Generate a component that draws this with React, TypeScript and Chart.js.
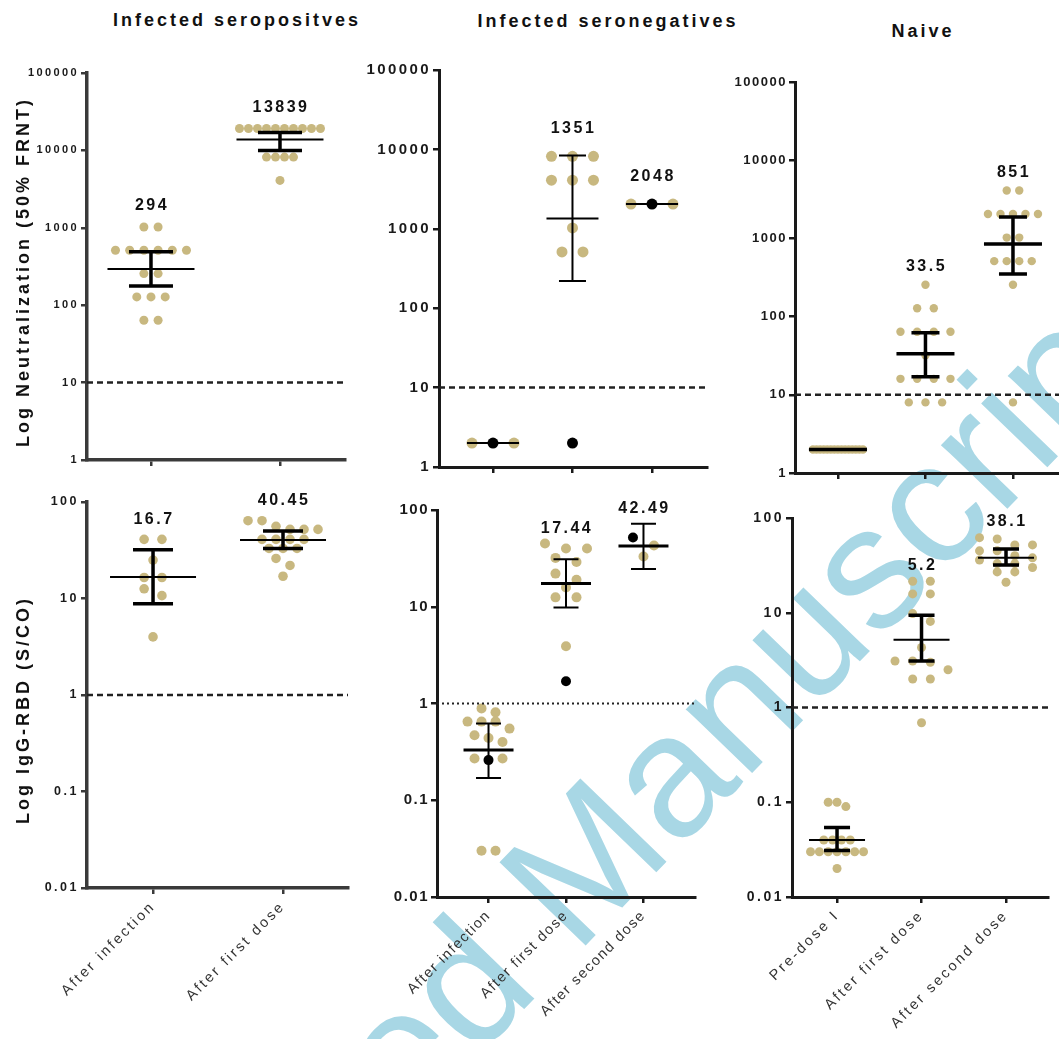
import React, { useEffect, useRef } from "react";
import { Chart, registerables } from "chart.js";
Chart.register(...registerables);

const FONT = '"Liberation Sans", Arial, Helvetica, sans-serif';
const TAN = "#c8b880";
const WM_COLOR = "rgb(168, 215, 229)";

// ---------------- DATA ----------------
const columnTitles = ["Infected seropositves", "Infected seronegatives", "Naive"];
const yTitleTop = "Log Neutralization (50% FRNT)";
const yTitleBottom = "Log IgG-RBD (S/CO)";

const catsSeropos = ["After infection", "After first dose"];
const catsSeroneg = ["After infection", "After first dose", "After second dose"];
const catsNaive = ["Pre-dose I", "After first dose", "After second dose"];

const ticksNeut = [1, 10, 100, 1000, 10000, 100000];
const ticksIgG = [0.01, 0.1, 1, 10, 100];

// Neutralization – infected seropositives
const neutSeroposInfection = [1024, 1024, 512, 512, 512, 512, 512, 512, 256, 256, 128, 128, 128, 64, 64];
const neutSeroposDose1 = [19200, 19200, 19200, 19200, 19200, 19200, 19200, 19200, 19200, 19200, 8192, 8192, 8192, 8192, 4096];
const neutSeroposMean = [294, 13839];
const neutSeroposUpper = [490, 17000];
const neutSeroposLower = [177, 10000];
const neutSeroposLabels = ["294", "13839"];

// Neutralization – infected seronegatives (black = highlighted individual)
const neutSeronegInfection = [2, 2];
const neutSeronegInfectionBlack = [2];
const neutSeronegDose1 = [8192, 8192, 8192, 4096, 4096, 4096, 1024, 512, 512];
const neutSeronegDose1Black = [2];
const neutSeronegDose2 = [2048, 2048];
const neutSeronegDose2Black = [2048];
const neutSeronegMean = [2, 1351, 2048];
const neutSeronegUpper = [null, 8400, null];
const neutSeronegLower = [null, 220, null];
const neutSeronegLabels = ["", "1351", "2048"];

// Neutralization – naive
const neutNaivePre = [2, 2, 2, 2, 2, 2, 2, 2, 2, 2, 2, 2, 2, 2, 2];
const neutNaiveDose1 = [256, 128, 128, 64, 64, 64, 64, 32, 16, 16, 16, 16, 8, 8, 8];
const neutNaiveDose2 = [4096, 4096, 2048, 2048, 2048, 2048, 2048, 1024, 1024, 512, 512, 512, 512, 256, 8];
const neutNaiveMean = [2, 33.5, 851];
const neutNaiveUpper = [null, 62, 1880];
const neutNaiveLower = [null, 17, 350];
const neutNaiveLabels = ["", "33.5", "851"];

// IgG-RBD – infected seropositives
const iggSeroposInfection = [41, 41, 25, 16.5, 16.5, 12.6, 10.7, 4];
const iggSeroposDose1 = [64, 64, 56, 52, 52, 52, 41, 41, 41, 41, 33, 33, 33, 26, 22, 17];
const iggSeroposMean = [16.7, 40.45];
const iggSeroposUpper = [32, 50];
const iggSeroposLower = [8.8, 33];
const iggSeroposLabels = ["16.7", "40.45"];

// IgG-RBD – infected seronegatives
const iggSeronegInfection = [0.89, 0.81, 0.65, 0.65, 0.65, 0.55, 0.47, 0.44, 0.4, 0.27, 0.27, 0.03, 0.03];
const iggSeronegInfectionBlack = [0.26];
const iggSeronegDose1 = [45, 40, 40, 32, 29, 22, 19, 15.8, 12.5, 12.5, 3.9];
const iggSeronegDose1Black = [1.7];
const iggSeronegDose2 = [43, 33];
const iggSeronegDose2Black = [52];
const iggSeronegMean = [0.33, 17.44, 42.49];
const iggSeronegUpper = [0.62, 31, 72];
const iggSeronegLower = [0.17, 9.8, 24.5];
const iggSeronegLabels = ["", "17.44", "42.49"];

// IgG-RBD – naive
const iggNaivePre = [0.1, 0.1, 0.09, 0.04, 0.04, 0.04, 0.04, 0.03, 0.03, 0.03, 0.03, 0.03, 0.03, 0.03, 0.02];
const iggNaiveDose1 = [21.5, 21.5, 15.8, 15.8, 9.8, 8.1, 4.3, 3.1, 3.1, 3.0, 2.5, 2, 2, 0.69];
const iggNaiveDose2 = [62, 60, 52, 52, 45, 45, 40, 38, 36, 33, 33, 30, 27, 27, 21];
const iggNaiveMean = [0.04, 5.2, 38.1];
const iggNaiveUpper = [0.054, 9.4, 47];
const iggNaiveLower = [0.031, 3.1, 32];
const iggNaiveLabels = ["", "5.2", "38.1"];

const neutCutoff = 10;
const iggCutoff = 1;

// ---------------- LAYOUT / STYLE ----------------
type Geom = { l: number; r: number; t: number; b: number; xmin: number; xmax: number; ymin: number; ymax: number };
type Style = {
  dotR: number; sp: number; maxW: number; rowGap: number; meanW: number; errW: number;
  meanHalf: number; capHalf: number; tickFont: number; tickLS: number; axisColor: string; axisW: number;
  dash: number[]; dashW: number; labelOff: number; xFont: number;
};
type PanelDef = {
  id: string; bottom: boolean; cats: string[]; tan: number[][]; black: number[][];
  mean: number[]; upper: (number | null)[]; lower: (number | null)[]; labels: string[];
  threshold: number; yTicks: number[]; geom: Geom; style: Style;
};

const Y_W = 80;
const PAD_T = 20;
const PAD_R = 12;
const XH_TOP = 25;
const XH_BOTTOM = 150;

const baseStyle: Style = {
  dotR: 4.5, sp: 14, maxW: 60, rowGap: 9, meanW: 2, errW: 3.5, meanHalf: 40, capHalf: 20,
  tickFont: 13, tickLS: 2, axisColor: "#1a1a1a", axisW: 3, dash: [6, 4], dashW: 2.5, labelOff: 22, xFont: 14.5,
};

const PANELS: PanelDef[] = [
  {
    id: "A", bottom: false, cats: catsSeropos,
    tan: [neutSeroposInfection, neutSeroposDose1], black: [[], []],
    mean: neutSeroposMean, upper: neutSeroposUpper, lower: neutSeroposLower, labels: neutSeroposLabels,
    threshold: neutCutoff, yTicks: ticksNeut,
    geom: { l: 87, r: 345, t: 73, b: 460, xmin: -0.496, xmax: 1.504, ymin: 1, ymax: 100000 },
    style: { ...baseStyle, dotR: 4.5, sp: 14.2, maxW: 81, meanW: 2, errW: 3.5, meanHalf: 43.5, capHalf: 22, tickFont: 11, tickLS: 2.4, axisColor: "#3a3a3a", axisW: 3.5, labelOff: 21 },
  },
  {
    id: "B", bottom: false, cats: catsSeroneg,
    tan: [neutSeronegInfection, neutSeronegDose1, neutSeronegDose2],
    black: [neutSeronegInfectionBlack, neutSeronegDose1Black, neutSeronegDose2Black],
    mean: neutSeronegMean, upper: neutSeronegUpper, lower: neutSeronegLower, labels: neutSeronegLabels,
    threshold: neutCutoff, yTicks: ticksNeut,
    geom: { l: 439, r: 707, t: 70, b: 467, xmin: -0.679, xmax: 2.692, ymin: 1, ymax: 100000 },
    style: { ...baseStyle, dotR: 5.5, sp: 21, maxW: 60, meanW: 2, errW: 2, meanHalf: 26, capHalf: 13.5, tickFont: 15, tickLS: 2.4, labelOff: 27 },
  },
  {
    id: "C", bottom: false, cats: catsNaive,
    tan: [neutNaivePre, neutNaiveDose1, neutNaiveDose2], black: [[], [], []],
    mean: neutNaiveMean, upper: neutNaiveUpper, lower: neutNaiveLower, labels: neutNaiveLabels,
    threshold: neutCutoff, yTicks: ticksNeut,
    geom: { l: 795, r: 1059, t: 82, b: 473, xmin: -0.491, xmax: 2.526, ymin: 1, ymax: 100000 },
    style: { ...baseStyle, dotR: 4.2, sp: 17, maxW: 50, meanW: 3.5, errW: 3.5, meanHalf: 29, capHalf: 14, tickFont: 13, tickLS: 1.5, labelOff: 18 },
  },
  {
    id: "D", bottom: true, cats: catsSeropos,
    tan: [iggSeroposInfection, iggSeroposDose1], black: [[], []],
    mean: iggSeroposMean, upper: iggSeroposUpper, lower: iggSeroposLower, labels: iggSeroposLabels,
    threshold: iggCutoff, yTicks: ticksIgG,
    geom: { l: 87, r: 348, t: 502, b: 888, xmin: -0.508, xmax: 1.5, ymin: 0.01, ymax: 100 },
    style: { ...baseStyle, dotR: 4.8, sp: 17.8, maxW: 70, meanW: 2, errW: 3.5, meanHalf: 43, capHalf: 20, tickFont: 12.5, tickLS: 2.5, axisColor: "#3a3a3a", axisW: 3.5, labelOff: 20 },
  },
  {
    id: "E", bottom: true, cats: catsSeroneg,
    tan: [iggSeronegInfection, iggSeronegDose1, iggSeronegDose2],
    black: [iggSeronegInfectionBlack, iggSeronegDose1Black, iggSeronegDose2Black],
    mean: iggSeronegMean, upper: iggSeronegUpper, lower: iggSeronegLower, labels: iggSeronegLabels,
    threshold: iggCutoff, yTicks: ticksIgG,
    geom: { l: 437, r: 695, t: 510, b: 897, xmin: -0.665, xmax: 2.665, ymin: 0.01, ymax: 100 },
    style: { ...baseStyle, dotR: 5, sp: 21, maxW: 42, meanW: 3, errW: 2, meanHalf: 25, capHalf: 12.5, tickFont: 15, tickLS: 1.5, dash: [2, 3], dashW: 2, labelOff: 15 },
  },
  {
    id: "F", bottom: true, cats: catsNaive,
    tan: [iggNaivePre, iggNaiveDose1, iggNaiveDose2], black: [[], [], []],
    mean: iggNaiveMean, upper: iggNaiveUpper, lower: iggNaiveLower, labels: iggNaiveLabels,
    threshold: iggCutoff, yTicks: ticksIgG,
    geom: { l: 792, r: 1048, t: 518, b: 897, xmin: -0.533, xmax: 2.497, ymin: 0.01, ymax: 100 },
    style: { ...baseStyle, dotR: 4.5, sp: 18, maxW: 53, meanW: 2, errW: 3.5, meanHalf: 28, capHalf: 13, tickFont: 14, tickLS: 2.5, labelOff: 16 },
  },
];

// ---------------- HELPERS ----------------
type Pt = { x: number; y: number | null };

function swarm(tan: number[], black: number[], ci: number, g: Geom, s: Style) {
  const items = [
    ...tan.map((v) => ({ v, k: 0 })),
    ...black.map((v) => ({ v, k: 1 })),
  ].sort((a, b) => b.v - a.v);
  const lmax = Math.log10(g.ymax), lmin = Math.log10(g.ymin);
  const yPix = (v: number) => g.t + ((lmax - Math.log10(v)) / (lmax - lmin)) * (g.b - g.t);
  const rows: { v: number; k: number }[][] = [];
  let cur: { v: number; k: number }[] | null = null;
  let startY = 0;
  for (const it of items) {
    const y = yPix(it.v);
    if (!cur || y - startY >= s.rowGap) {
      cur = [];
      rows.push(cur);
      startY = y;
    }
    cur.push(it);
  }
  const maxLen = rows.reduce((m, r) => Math.max(m, r.length), 1);
  const spPx = maxLen > 1 ? Math.min(s.sp, s.maxW / (maxLen - 1)) : s.sp;
  const unit = (g.r - g.l) / (g.xmax - g.xmin);
  const outTan: Pt[] = [], outBlack: Pt[] = [];
  rows.forEach((row) => {
    const tans = row.filter((i) => i.k === 0);
    const blacks = row.filter((i) => i.k === 1);
    const mid = Math.floor(tans.length / 2);
    const ordered = [...tans.slice(0, mid), ...blacks, ...tans.slice(mid)];
    ordered.forEach((it, j) => {
      const x = ci + ((j - (ordered.length - 1) / 2) * spPx) / unit;
      (it.k ? outBlack : outTan).push({ x, y: it.v });
    });
  });
  return { tan: outTan, black: outBlack };
}

function buildConfig(p: PanelDef): any {
  const g = p.geom, s = p.style;
  const unit = (g.r - g.l) / (g.xmax - g.xmin);
  const tanPts: Pt[] = [], blackPts: Pt[] = [];
  p.cats.forEach((_, i) => {
    const sw = swarm(p.tan[i], p.black[i], i, g, s);
    tanPts.push(...sw.tan);
    blackPts.push(...sw.black);
  });
  const meanPts: Pt[] = [], errPts: Pt[] = [];
  p.mean.forEach((m, i) => {
    const mh = s.meanHalf / unit, ch = s.capHalf / unit;
    meanPts.push({ x: i - mh, y: m }, { x: i + mh, y: m }, { x: i, y: null });
    const u = p.upper[i], lo = p.lower[i];
    if (u != null && lo != null) {
      errPts.push(
        { x: i - ch, y: u }, { x: i + ch, y: u }, { x: i, y: null },
        { x: i, y: u }, { x: i, y: lo }, { x: i, y: null },
        { x: i - ch, y: lo }, { x: i + ch, y: lo }, { x: i, y: null }
      );
    }
  });
  const thrPts: Pt[] = [{ x: g.xmin, y: p.threshold }, { x: g.xmax, y: p.threshold }];

  const lineDs = (label: string, data: Pt[], w: number, order: number, extra: any = {}) => ({
    label, data, showLine: true, borderColor: "#000", backgroundColor: "#000", borderWidth: w,
    pointRadius: 0, pointHoverRadius: 0, spanGaps: false, order, borderCapStyle: "butt", ...extra,
  });

  const datasets = [
    lineDs("mean", meanPts, s.meanW, 0),
    lineDs("sd", errPts, s.errW, 0),
    lineDs("cutoff", thrPts, s.dashW, 1, { borderColor: "#222", borderDash: s.dash }),
    {
      label: "highlight", data: blackPts, showLine: false, pointRadius: s.dotR, pointHoverRadius: s.dotR,
      backgroundColor: "#000", pointBackgroundColor: "#000", borderWidth: 0, pointBorderWidth: 0, order: 2,
    },
    {
      label: "values", data: tanPts, showLine: false, pointRadius: s.dotR, pointHoverRadius: s.dotR,
      backgroundColor: TAN, pointBackgroundColor: TAN, borderWidth: 0, pointBorderWidth: 0, order: 3,
    },
  ];

  const spacingPlugin = {
    id: "spacing" + p.id,
    beforeDraw(chart: any) {
      chart.ctx.letterSpacing = s.tickLS + "px";
    },
  };

  const labelPlugin = {
    id: "meanLabels" + p.id,
    afterDatasetsDraw(chart: any) {
      const { ctx } = chart;
      const xs = chart.scales.x, ys = chart.scales.y;
      ctx.save();
      ctx.font = `bold 16px ${FONT}`;
      ctx.letterSpacing = "2.5px";
      ctx.fillStyle = "#111";
      ctx.textAlign = "center";
      ctx.textBaseline = "middle";
      p.labels.forEach((lab, i) => {
        if (!lab) return;
        const vals = [...p.tan[i], ...p.black[i]];
        if (p.upper[i] != null) vals.push(p.upper[i] as number);
        const top = Math.max(...vals);
        const py = ys.getPixelForValue(top) - s.labelOff;
        ctx.fillText(lab, xs.getPixelForValue(i) + 1, py);
      });
      ctx.restore();
    },
  };

  const gridOpts = {
    display: true, drawOnChartArea: false, drawTicks: true, tickLength: 6,
    color: s.axisColor, lineWidth: 2.5,
  };
  const borderOpts = { display: true, color: s.axisColor, width: s.axisW };

  return {
    type: "scatter",
    data: { datasets },
    plugins: [spacingPlugin, labelPlugin],
    options: {
      responsive: false,
      maintainAspectRatio: false,
      animation: false,
      devicePixelRatio: 1,
      events: [],
      layout: { padding: { top: PAD_T, right: PAD_R, left: 0, bottom: 0 } },
      plugins: { legend: { display: false }, tooltip: { enabled: false }, title: { display: false } },
      scales: {
        x: {
          type: "linear",
          min: g.xmin,
          max: g.xmax,
          afterFit: (sc: any) => { sc.height = p.bottom ? XH_BOTTOM : XH_TOP; },
          afterBuildTicks: (sc: any) => { sc.ticks = p.cats.map((_, i) => ({ value: i })); },
          ticks: {
            display: p.bottom,
            autoSkip: false,
            minRotation: 45,
            maxRotation: 45,
            padding: 4,
            color: "#333",
            font: { family: FONT, size: s.xFont, weight: "normal" },
            callback: (v: number) => p.cats[Math.round(v)] ?? "",
          },
          grid: gridOpts,
          border: borderOpts,
        },
        y: {
          type: "logarithmic",
          min: g.ymin,
          max: g.ymax,
          afterFit: (sc: any) => { sc.width = Y_W; },
          afterBuildTicks: (sc: any) => { sc.ticks = p.yTicks.map((v) => ({ value: v })); },
          ticks: {
            autoSkip: false,
            padding: 2,
            color: "#1a1a1a",
            font: { family: FONT, size: s.tickFont, weight: "bold" },
            callback: (v: number) => String(v),
          },
          grid: gridOpts,
          border: borderOpts,
        },
      },
    },
  };
}

function PanelChart({ panel }: { panel: PanelDef }) {
  const ref = useRef<HTMLCanvasElement | null>(null);
  useEffect(() => {
    if (!ref.current) return;
    const chart = new Chart(ref.current, buildConfig(panel));
    return () => chart.destroy();
  }, [panel]);
  const g = panel.geom;
  const cw = g.r - g.l + Y_W + PAD_R;
  const ch = g.b - g.t + PAD_T + (panel.bottom ? XH_BOTTOM : XH_TOP);
  return (
    <canvas
      ref={ref}
      width={cw}
      height={ch}
      style={{ position: "absolute", left: g.l - Y_W, top: g.t - PAD_T, width: cw, height: ch, zIndex: 1 }}
    />
  );
}

const titleStyle: React.CSSProperties = {
  position: "absolute",
  fontFamily: FONT,
  fontWeight: "bold",
  fontSize: 18,
  letterSpacing: "3px",
  color: "#111",
  whiteSpace: "nowrap",
  transform: "translate(-50%, -50%)",
  zIndex: 2,
  lineHeight: 1,
};

function Watermark() {
  const common: React.CSSProperties = {
    position: "absolute",
    top: -146,
    fontFamily: FONT,
    fontSize: 174,
    lineHeight: "174px",
    whiteSpace: "pre",
    color: WM_COLOR,
  };
  return (
    <div
      style={{
        position: "absolute", left: 575, top: 955, width: 0, height: 0,
        transform: "rotate(-46deg)", transformOrigin: "0 0", zIndex: 0,
      }}
    >
      <span style={{ ...common, right: 0 }}>{"Accepted "}</span>
      <span style={{ ...common, left: 0 }}>{"Manuscript"}</span>
    </div>
  );
}

export default function App() {
  return (
    <div
      style={{
        position: "fixed", left: 0, top: 0, width: 1059, height: 1039,
        overflow: "hidden", background: "#fff",
      }}
    >
      <Watermark />
      {PANELS.map((p) => (
        <PanelChart key={p.id} panel={p} />
      ))}
      <div style={{ ...titleStyle, left: 237, top: 20 }}>{columnTitles[0]}</div>
      <div style={{ ...titleStyle, left: 608, top: 21 }}>{columnTitles[1]}</div>
      <div style={{ ...titleStyle, left: 923, top: 31 }}>{columnTitles[2]}</div>
      <div style={{ ...titleStyle, left: 23, top: 272, transform: "translate(-50%, -50%) rotate(-90deg)" }}>
        {yTitleTop}
      </div>
      <div style={{ ...titleStyle, left: 23, top: 710, transform: "translate(-50%, -50%) rotate(-90deg)" }}>
        {yTitleBottom}
      </div>
    </div>
  );
}
